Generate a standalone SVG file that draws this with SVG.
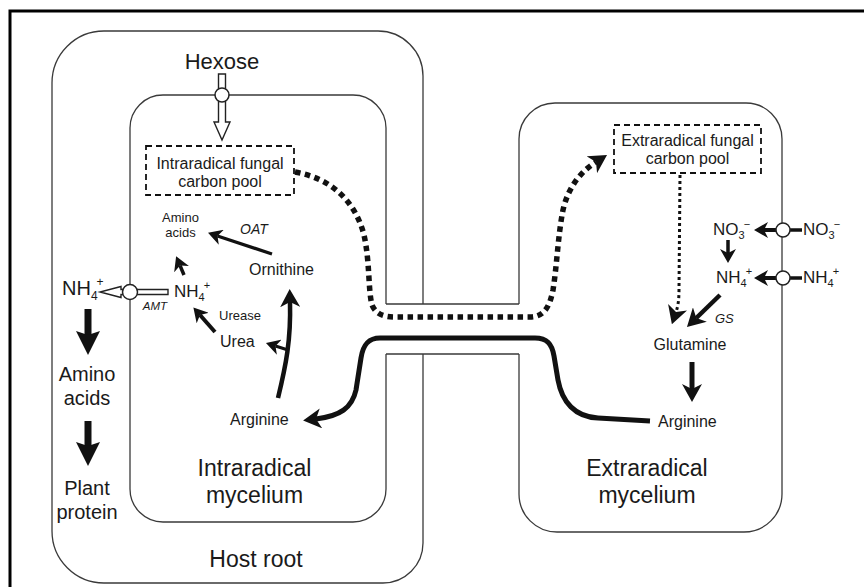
<svg xmlns="http://www.w3.org/2000/svg" width="864" height="587" viewBox="0 0 864 587">
<style>
.box{fill:none;stroke:#3a3a3a;stroke-width:1.3}
.pool{fill:#fff;stroke:#111;stroke-width:1.8;stroke-dasharray:6 4}
.t{font-family:"Liberation Sans",Arial,Helvetica,sans-serif;fill:#1a1a1a}
.i{font-style:italic}
.m{text-anchor:middle}
.arr{fill:none;stroke:#111;stroke-linecap:butt}
.port{fill:#fff;stroke:#222;stroke-width:1.5}
.hollow{fill:#fff;stroke:#222;stroke-width:1.4;stroke-linejoin:miter}
.hd{fill:#111}
</style>
<defs>
<marker id="hA" markerUnits="userSpaceOnUse" viewBox="0 0 24 24" refX="4" refY="12" markerWidth="24" markerHeight="24" orient="auto"><path class="hd" d="M24,12 L0,0 L4,12 L0,24 Z"/></marker>
<marker id="hB" markerUnits="userSpaceOnUse" viewBox="0 0 18 20" refX="5" refY="10" markerWidth="18" markerHeight="20" orient="auto"><path class="hd" d="M18,10 L0,0 L5,10 L0,20 Z"/></marker>
<marker id="hC" markerUnits="userSpaceOnUse" viewBox="0 0 14 16" refX="4" refY="8" markerWidth="14" markerHeight="16" orient="auto"><path class="hd" d="M14,8 L0,0 L4,8 L0,16 Z"/></marker>
</defs>
<rect width="864" height="587" fill="#fff"/>
<path id="frame" d="M10,592 V11 H870" fill="none" stroke="#000" stroke-width="3"/>

<g id="host-root">
<path class="box" d="M423,304 L423,76 A45,45 0 0 0 378,31 L104,31 A52,52 0 0 0 52,83 L52,531 A52,52 0 0 0 104,583 L383,583 A40,40 0 0 0 423,543 L423,354"/>
<text class="t m" x="256" y="567" font-size="23">Host root</text>
</g>
<g id="intraradical-mycelium">
<path class="box" d="M386,304 L386,128 A33,33 0 0 0 353,95 L163,95 A33,33 0 0 0 130,128 L130,489 A33,33 0 0 0 163,522 L353,522 A33,33 0 0 0 386,489 L386,354"/>
<text class="t m" x="254.5" y="476" font-size="23">Intraradical</text>
<text class="t m" x="254.5" y="503" font-size="23">mycelium</text>
</g>
<g id="extraradical-mycelium">
<path class="box" d="M519,304 L519,139 A36,36 0 0 1 555,103 L746,103 A36,36 0 0 1 782,139 L782,494 A38,38 0 0 1 744,532 L557,532 A38,38 0 0 1 519,494 L519,354"/>
<text class="t m" x="647" y="476" font-size="23">Extraradical</text>
<text class="t m" x="647" y="503" font-size="23">mycelium</text>
</g>
<g id="channel">
<path class="box" d="M386,304 H519 M386,354 H519"/>
</g>

<g id="connectors">
<!-- hexose import -->
<path class="hollow" d="M218.5,74 L225.5,74 L225.5,122 L230,122 L222,140 L214,122 L218.5,122 Z"/>
<circle class="port" cx="222" cy="95" r="7"/>
<!-- AMT export -->
<path class="hollow" d="M168,289.5 L168,294.5 L121,294.5 L121,297.5 L100,292 L121,286.5 L121,289.5 Z"/>
<circle class="port" cx="130" cy="292" r="7.5"/>
<!-- plant side -->
<line class="arr" x1="88" y1="309" x2="88" y2="335" stroke-width="7" marker-end="url(#hA)"/>
<line class="arr" x1="88" y1="421" x2="88" y2="446" stroke-width="7" marker-end="url(#hA)"/>
<!-- intraradical metabolism -->
<line class="arr" x1="272" y1="254" x2="217.5" y2="236" stroke-width="3.2" marker-end="url(#hC)"/>
<line class="arr" x1="184" y1="275" x2="180" y2="265.5" stroke-width="3.5" marker-end="url(#hC)"/>
<line class="arr" x1="215" y1="332" x2="200" y2="315" stroke-width="4" marker-end="url(#hC)"/>
<path class="arr" d="M278,398 C286,365 291,340 290,302" stroke-width="4.5" marker-end="url(#hB)"/>
<line class="arr" x1="288" y1="350" x2="275.5" y2="346" stroke-width="3" marker-end="url(#hC)"/>
<!-- arginine transport -->
<path class="arr" d="M650,421 L598,418 C575,417 562,402 558,380 L554,356 C552,344 547,338 535,338 L380,338 C368,338 363,345 361,358 L356,390 C352,408 340,416 316,419" stroke-width="5" marker-end="url(#hB)"/>
<!-- carbon flow -->
<path class="arr" d="M295,172 C330,178 355,200 364,235 C370,262 368,290 372,305 C376,315 385,317 395,317 L530,317 C545,317 550,305 553,290 C557,265 558,235 563,210 C568,188 580,172 596,162" stroke-width="5.5" stroke-dasharray="5.5 4.5" marker-end="url(#hB)"/>
<path class="arr" d="M680,175 L679,290 C679,300 678,306 676,312" stroke-width="3" stroke-dasharray="3 3" marker-end="url(#hB)"/>
<!-- extraradical metabolism -->
<line class="arr" x1="720" y1="295" x2="696.3" y2="318" stroke-width="4.5" marker-end="url(#hB)"/>
<line class="arr" x1="692" y1="362" x2="692" y2="389" stroke-width="5" marker-end="url(#hB)"/>
<line class="arr" x1="728" y1="240" x2="728" y2="253" stroke-width="3.5" marker-end="url(#hC)"/>
<line class="arr" x1="776" y1="230" x2="764" y2="230" stroke-width="4" marker-end="url(#hC)"/>
<line class="arr" x1="790" y1="230" x2="802" y2="230" stroke-width="3.5"/>
<circle class="port" cx="783" cy="230" r="7"/>
<line class="arr" x1="776" y1="278" x2="764" y2="278" stroke-width="4" marker-end="url(#hC)"/>
<line class="arr" x1="790" y1="278" x2="802" y2="278" stroke-width="3.5"/>
<circle class="port" cx="783" cy="278" r="7"/>
</g>

<g id="hexose"><text class="t m" x="222" y="69" font-size="22">Hexose</text></g>
<g id="intraradical-pool">
<rect class="pool" x="146" y="146" width="148" height="49"/>
<text class="t m" x="220" y="168.5" font-size="16">Intraradical fungal</text>
<text class="t m" x="220" y="186.5" font-size="16">carbon pool</text>
</g>
<g id="extraradical-pool">
<rect class="pool" x="614" y="125" width="147" height="48"/>
<text class="t m" x="687.5" y="146" font-size="16">Extraradical fungal</text>
<text class="t m" x="687.5" y="164" font-size="16">carbon pool</text>
</g>
<g id="amino-acids-fungal">
<text class="t m" x="180.5" y="222" font-size="13">Amino</text>
<text class="t m" x="180.5" y="237" font-size="13">acids</text>
</g>
<g id="oat"><text class="t i" x="240" y="234" font-size="14">OAT</text></g>
<g id="ornithine"><text class="t" x="249" y="275" font-size="16">Ornithine</text></g>
<g id="nh4-fungal"><text class="t" x="174" y="297" font-size="17">NH<tspan font-size="11" dy="4">4</tspan><tspan font-size="11" dx="-1" dy="-12">+</tspan></text></g>
<g id="amt"><text class="t i m" x="155" y="310" font-size="11.5">AMT</text></g>
<g id="urease"><text class="t" x="219" y="320" font-size="13">Urease</text></g>
<g id="urea"><text class="t" x="220" y="347" font-size="16">Urea</text></g>
<g id="arginine-intra"><text class="t" x="230" y="425" font-size="16">Arginine</text></g>
<g id="nh4-plant"><text class="t" x="62" y="295" font-size="20">NH<tspan font-size="12" dy="5">4</tspan><tspan font-size="12" dx="-1" dy="-14">+</tspan></text></g>
<g id="amino-acids-plant">
<text class="t m" x="87" y="381" font-size="20">Amino</text>
<text class="t m" x="87" y="405" font-size="20">acids</text>
</g>
<g id="plant-protein">
<text class="t m" x="87" y="495" font-size="20">Plant</text>
<text class="t m" x="87" y="519" font-size="20">protein</text>
</g>
<g id="no3-in"><text class="t" x="713" y="235" font-size="17">NO<tspan font-size="11" dy="4">3</tspan><tspan font-size="11" dx="-1" dy="-11">−</tspan></text></g>
<g id="no3-out"><text class="t" x="803" y="235" font-size="17">NO<tspan font-size="11" dy="4">3</tspan><tspan font-size="11" dx="-1" dy="-11">−</tspan></text></g>
<g id="nh4-in"><text class="t" x="716" y="283" font-size="17">NH<tspan font-size="11" dy="4">4</tspan><tspan font-size="11" dx="-1" dy="-12">+</tspan></text></g>
<g id="nh4-out"><text class="t" x="803" y="283" font-size="17">NH<tspan font-size="11" dy="4">4</tspan><tspan font-size="11" dx="-1" dy="-12">+</tspan></text></g>
<g id="gs"><text class="t i" x="715" y="323" font-size="13">GS</text></g>
<g id="glutamine"><text class="t m" x="690" y="350" font-size="16">Glutamine</text></g>
<g id="arginine-extra"><text class="t" x="658" y="427" font-size="16">Arginine</text></g>
</svg>
